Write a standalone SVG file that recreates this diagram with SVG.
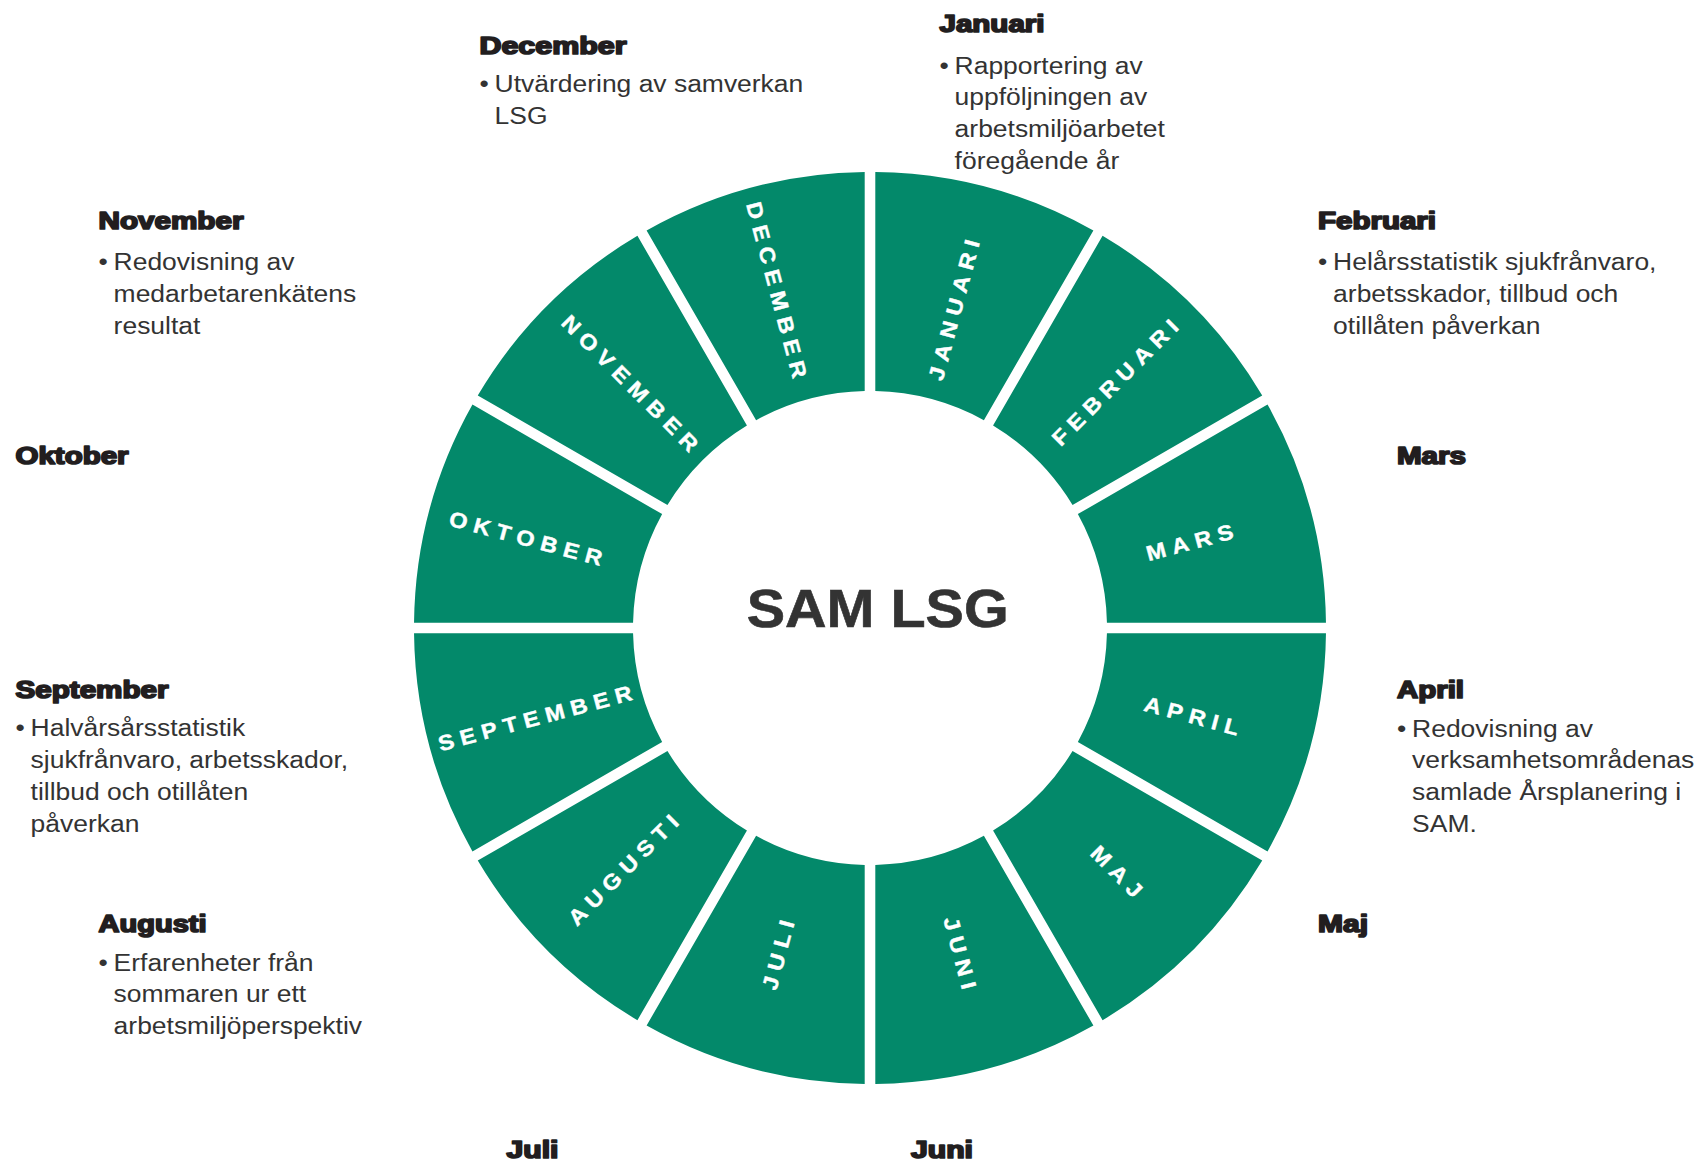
<svg xmlns="http://www.w3.org/2000/svg" xmlns:xlink="http://www.w3.org/1999/xlink" width="1701" height="1166" viewBox="0 0 1701 1166">
<style>
.seg{fill:#03896a}
.lbl{font-family:"Liberation Sans",Arial,sans-serif;font-weight:bold;font-size:21.5px;fill:#ffffff;stroke:#ffffff;stroke-width:0.4px;letter-spacing:6px;text-anchor:middle}
.hd{font-family:"Liberation Sans",Arial,sans-serif;font-weight:bold;font-size:23px;fill:#221e1f;stroke:#221e1f;stroke-width:1.7px;stroke-linejoin:round}
.bd{font-family:"Liberation Sans",Arial,sans-serif;font-size:24.5px;fill:#333333}
.title{font-family:"Liberation Sans",Arial,sans-serif;font-weight:bold;font-size:53.5px;fill:#333333;stroke:#333333;stroke-width:0.6px}
</style>
<defs>
<path id="seg" d="M875.30,172.03 A456,456 0 0 1 1093.39,230.47 L983.88,420.15 A237,237 0 0 0 875.30,391.06 Z"/>
</defs>
<rect width="1701" height="1166" fill="#ffffff"/>
<g id="connectors"></g>

<g id="januari">
<use xlink:href="#seg" class="seg"/>
<text class="lbl" transform="translate(954,310) rotate(-75) scale(1.1,1)" x="3" y="7.5">JANUARI</text>
<text class="hd" x="939.5" y="32" textLength="105" lengthAdjust="spacingAndGlyphs">Januari</text>
<g class="bd" transform="translate(939.5,73.5) scale(1.08,1)"><text x="0" y="0">•</text><text x="14" y="0">Rapportering av</text><text x="14" y="32">uppföljningen av</text><text x="14" y="64">arbetsmiljöarbetet</text><text x="14" y="96">föregående år</text></g>
</g>

<g id="februari">
<use xlink:href="#seg" class="seg" transform="rotate(30 870 628)"/>
<text class="lbl" transform="translate(1115,382.5) rotate(-45) scale(1.1,1)" x="3" y="7.5">FEBRUARI</text>
<text class="hd" x="1318" y="229" textLength="118" lengthAdjust="spacingAndGlyphs">Februari</text>
<g class="bd" transform="translate(1318,270) scale(1.08,1)"><text x="0" y="0">•</text><text x="14" y="0">Helårsstatistik sjukfrånvaro,</text><text x="14" y="32">arbetsskador, tillbud och</text><text x="14" y="64">otillåten påverkan</text></g>
</g>

<g id="mars">
<use xlink:href="#seg" class="seg" transform="rotate(60 870 628)"/>
<text class="lbl" transform="translate(1189.7,542.5) rotate(-15) scale(1.1,1)" x="3" y="7.5">MARS</text>
<text class="hd" x="1397" y="464" textLength="69" lengthAdjust="spacingAndGlyphs">Mars</text>
</g>

<g id="april">
<use xlink:href="#seg" class="seg" transform="rotate(90 870 628)"/>
<text class="lbl" transform="translate(1191.7,715.8) rotate(15) scale(1.1,1)" x="3" y="7.5">APRIL</text>
<text class="hd" x="1397" y="698" textLength="67" lengthAdjust="spacingAndGlyphs">April</text>
<g class="bd" transform="translate(1397,736.5) scale(1.08,1)"><text x="0" y="0">•</text><text x="14" y="0">Redovisning av</text><text x="14" y="32">verksamhetsområdenas</text><text x="14" y="64">samlade Årsplanering i</text><text x="14" y="96">SAM.</text></g>
</g>

<g id="maj">
<use xlink:href="#seg" class="seg" transform="rotate(120 870 628)"/>
<text class="lbl" transform="translate(1116.5,871.5) rotate(45) scale(1.1,1)" x="3" y="7.5">MAJ</text>
<text class="hd" x="1318" y="932" textLength="50" lengthAdjust="spacingAndGlyphs">Maj</text>
</g>

<g id="juni">
<use xlink:href="#seg" class="seg" transform="rotate(150 870 628)"/>
<text class="lbl" transform="translate(960,953) rotate(75) scale(1.1,1)" x="3" y="7.5">JUNI</text>
<text class="hd" x="911" y="1158" textLength="62" lengthAdjust="spacingAndGlyphs">Juni</text>
</g>

<g id="juli">
<use xlink:href="#seg" class="seg" transform="rotate(180 870 628)"/>
<text class="lbl" transform="translate(778.3,955) rotate(-75) scale(1.1,1)" x="3" y="7.5">JULI</text>
<text class="hd" x="506.5" y="1158" textLength="52" lengthAdjust="spacingAndGlyphs">Juli</text>
</g>

<g id="augusti">
<use xlink:href="#seg" class="seg" transform="rotate(210 870 628)"/>
<text class="lbl" transform="translate(623.3,870) rotate(-45) scale(1.1,1)" x="3" y="7.5">AUGUSTI</text>
<text class="hd" x="98.5" y="932" textLength="108" lengthAdjust="spacingAndGlyphs">Augusti</text>
<g class="bd" transform="translate(98.5,970.5) scale(1.08,1)"><text x="0" y="0">•</text><text x="14" y="0">Erfarenheter från</text><text x="14" y="32">sommaren ur ett</text><text x="14" y="64">arbetsmiljöperspektiv</text></g>
</g>

<g id="september">
<use xlink:href="#seg" class="seg" transform="rotate(240 870 628)"/>
<text class="lbl" transform="translate(535,718.3) rotate(-15) scale(1.1,1)" x="3" y="7.5">SEPTEMBER</text>
<text class="hd" x="15.5" y="698" textLength="153" lengthAdjust="spacingAndGlyphs">September</text>
<g class="bd" transform="translate(15.5,736) scale(1.08,1)"><text x="0" y="0">•</text><text x="14" y="0">Halvårsårsstatistik</text><text x="14" y="32">sjukfrånvaro, arbetsskador,</text><text x="14" y="64">tillbud och otillåten</text><text x="14" y="96">påverkan</text></g>
</g>

<g id="oktober">
<use xlink:href="#seg" class="seg" transform="rotate(270 870 628)"/>
<text class="lbl" transform="translate(525.8,538.3) rotate(15) scale(1.1,1)" x="3" y="7.5">OKTOBER</text>
<text class="hd" x="15.5" y="464" textLength="113" lengthAdjust="spacingAndGlyphs">Oktober</text>
</g>

<g id="november">
<use xlink:href="#seg" class="seg" transform="rotate(300 870 628)"/>
<text class="lbl" transform="translate(630,383.3) rotate(45) scale(1.1,1)" x="3" y="7.5">NOVEMBER</text>
<text class="hd" x="98.5" y="229" textLength="145" lengthAdjust="spacingAndGlyphs">November</text>
<g class="bd" transform="translate(98.5,270) scale(1.08,1)"><text x="0" y="0">•</text><text x="14" y="0">Redovisning av</text><text x="14" y="32">medarbetarenkätens</text><text x="14" y="64">resultat</text></g>
</g>

<g id="december">
<use xlink:href="#seg" class="seg" transform="rotate(330 870 628)"/>
<text class="lbl" transform="translate(776.7,290) rotate(75) scale(1.1,1)" x="3" y="7.5">DECEMBER</text>
<text class="hd" x="479.5" y="54" textLength="147" lengthAdjust="spacingAndGlyphs">December</text>
<g class="bd" transform="translate(479.5,92) scale(1.08,1)"><text x="0" y="0">•</text><text x="14" y="0">Utvärdering av samverkan</text><text x="14" y="32">LSG</text></g>
</g>

<g id="center">
<text class="title" x="746.7" y="626.7" textLength="262" lengthAdjust="spacingAndGlyphs">SAM LSG</text>
</g>
</svg>
